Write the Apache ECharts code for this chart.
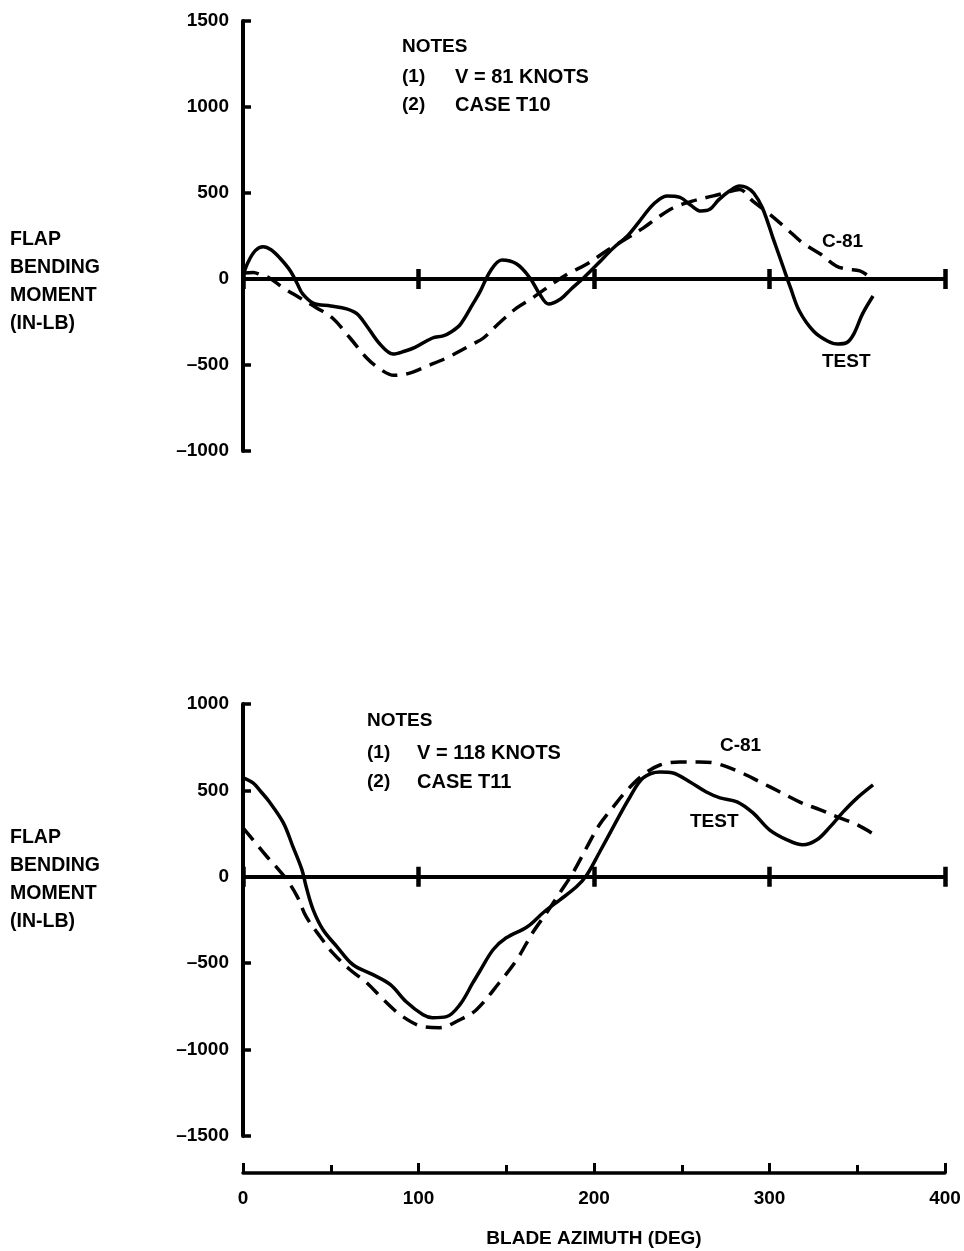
<!DOCTYPE html>
<html><head><meta charset="utf-8">
<script src="https://cdn.jsdelivr.net/npm/echarts@6/dist/echarts.min.js"></script>
<style>html,body{margin:0;padding:0;background:#fff}#c{width:964px;height:1251px}</style>
</head><body><div id="c"></div>
<script>
// ---- data ----
const azimuthRange = [0, 400];
const topMomentRange = [-1000, 1500];
const bottomMomentRange = [-1500, 1000];

const topTestAzimuth = [0,3,7,11.5,16,21,27,31,34,40,50,59,65,70.5,78,85.5,92,98,108,114,119,124,131,135,141,147.5,156,163.5,169,174,181,187,194,202,211,219,226,234,241.5,249,255,261,266,271,277,283,287,291,296,302,308,312,317,325,333,339,344,348,353,359];
const topTestMoment = [20,100,165,188,170,122,47,-29,-87,-140,-157,-174,-203,-273,-378,-436,-420,-398,-343,-331,-305,-262,-145,-75,47,110,87,6,-87,-145,-116,-58,6,87,180,250,337,436,483,475,430,395,405,460,510,541,532,500,413,238,64,-52,-186,-302,-360,-378,-370,-320,-203,-99];

const topC81Azimuth = [0,6,10,15,23,32.5,42,51,61,70.5,78,86,95,105,116,131,137,146,156,165,177,186,196,207,219,228,236,245,256,268,276,283,290.5,300,310,319,329,338,344,351.5,356];
const topC81Moment = [35,38,25,6,-52,-110,-168,-227,-343,-459,-523,-560,-547,-506,-459,-378,-343,-256,-168,-110,-23,35,87,163,238,296,355,413,453,483,505,520,453,378,290,209,145,76,58,47,20];

const bottomTestAzimuth = [0,5.7,10,15,23,28.5,33.6,36,40,45.6,53.6,62.7,74,84,93,102.6,108,116,123.6,131,135,142.5,150,162,171,180.6,190,196,203,211,220.5,228,237.6,245,254.7,264,271.8,281.5,290.6,300,310,319,327,334.5,342,350,359];
const bottomTestMoment = [572,543,495,434,312,173,40,-58,-191,-306,-405,-509,-566,-624,-723,-798,-815,-809,-740,-613,-545,-422,-353,-289,-208,-133,-58,12,139,289,462,572,607,601,549,491,457,434,370,272,214,185,214,289,376,457,532];

const bottomC81Azimuth = [0,5.7,13.7,19.4,25,31,36,44,51,61,70.5,80,91,102.6,112,123.6,133,146,156,165,173,180.6,188,196,203,211,219,228,237.6,249,260,270,283,294.6,306,317,329,340,350,360];
const bottomC81Moment = [283,214,116,52,-17,-116,-231,-347,-439,-538,-613,-711,-809,-867,-873,-827,-769,-613,-480,-324,-208,-92,23,173,300,405,503,590,647,665,665,655,607,549,491,434,387,341,301,243];

const azimuthInterval = 100;
const momentInterval = 500;

// ---- chart ----
const FONT = '"Liberation Sans", Arial, Helvetica, sans-serif';
const zip = (a, b) => a.map((x, i) => [x, b[i]]);
const fmtY = v => v < 0 ? '\u2013' + Math.abs(v) : String(v);
const TXT = {color: '#000', fontFamily: FONT, fontWeight: 'bold', fontSize: 19};

function yAxisOf(range, gridIndex) {
  return {
    type: 'value', gridIndex, min: range[0], max: range[1], interval: momentInterval,
    axisLine: {show: true, onZero: false, lineStyle: {color: '#000', width: 4}},
    axisTick: {show: true, inside: true, length: 8, lineStyle: {color: '#000', width: 3.5}},
    axisLabel: Object.assign({show: true, margin: 14, formatter: fmtY}, TXT),
    splitLine: {show: false}
  };
}
function zeroAxisOf(gridIndex, yIndex, position) {
  return {
    type: 'value', gridIndex, position, min: azimuthRange[0], max: azimuthRange[1], interval: azimuthInterval,
    axisLine: {show: true, onZero: true, onZeroAxisIndex: yIndex, lineStyle: {color: '#000', width: 4}},
    axisTick: {show: true, inside: false, length: 10, lineStyle: {color: '#000', width: 4.5}},
    axisLabel: {show: false},
    splitLine: {show: false}
  };
}
function lineSeries(xi, yi, ax, mo, dashed) {
  return {
    type: 'line', xAxisIndex: xi, yAxisIndex: yi, data: zip(ax, mo),
    smooth: 0.35, symbol: 'none', silent: true, z: 3,
    lineStyle: {color: '#000', width: 3.5, type: dashed ? [16, 9] : 'solid', cap: 'butt'}
  };
}
function txt(x, y, text, extra) {
  return {type: 'text', x, y, silent: true,
    style: Object.assign({text, fill: '#000', fontFamily: FONT, fontWeight: 'bold', fontSize: 19,
      textAlign: 'left', textVerticalAlign: 'middle'}, extra || {})};
}
const yName = 'FLAP\nBENDING\nMOMENT\n(IN-LB)';

const chart = echarts.init(document.getElementById('c'), null, {renderer: 'canvas'});
chart.setOption({
  animation: false,
  backgroundColor: '#fff',
  grid: [
    {left: 243, top: 21, width: 702, height: 430, containLabel: false, outerBoundsMode: 'none'},
    {left: 243, top: 704, width: 702, height: 432, containLabel: false, outerBoundsMode: 'none'}
  ],
  xAxis: [
    zeroAxisOf(0, 0, 'bottom'),
    zeroAxisOf(0, 0, 'top'),
    zeroAxisOf(1, 1, 'bottom'),
    zeroAxisOf(1, 1, 'top'),
    {
      type: 'value', gridIndex: 1, position: 'bottom', offset: 37,
      min: azimuthRange[0], max: azimuthRange[1], interval: azimuthInterval,
      axisLine: {show: true, onZero: false, lineStyle: {color: '#000', width: 3.5}},
      axisTick: {show: true, inside: true, length: 10, lineStyle: {color: '#000', width: 3}},
      minorTick: {show: true, splitNumber: 2, length: 8, lineStyle: {color: '#000', width: 3}},
      axisLabel: Object.assign({show: true, margin: 16}, TXT),
      splitLine: {show: false}, minorSplitLine: {show: false},
      name: 'BLADE AZIMUTH (DEG)', nameLocation: 'middle', nameGap: 56,
      nameTextStyle: {color: '#000', fontFamily: FONT, fontWeight: 'bold', fontSize: 19}
    }
  ],
  yAxis: [yAxisOf(topMomentRange, 0), yAxisOf(bottomMomentRange, 1)],
  series: [
    lineSeries(0, 0, topTestAzimuth, topTestMoment, false),
    lineSeries(0, 0, topC81Azimuth, topC81Moment, true),
    lineSeries(2, 1, bottomTestAzimuth, bottomTestMoment, false),
    lineSeries(2, 1, bottomC81Azimuth, bottomC81Moment, true)
  ],
  graphic: [
    txt(10, 226, yName, {textVerticalAlign: 'top', lineHeight: 28, fontSize: 19.5}),
    txt(402, 47, 'NOTES'),
    txt(402, 77, '(1)'), txt(455, 77, 'V = 81 KNOTS', {fontSize: 20}),
    txt(402, 105, '(2)'), txt(455, 105, 'CASE T10', {fontSize: 20}),
    txt(822, 242, 'C-81'),
    txt(822, 362, 'TEST'),
    txt(10, 824, yName, {textVerticalAlign: 'top', lineHeight: 28, fontSize: 19.5}),
    txt(367, 721, 'NOTES'),
    txt(367, 753, '(1)'), txt(417, 753, 'V = 118 KNOTS', {fontSize: 20}),
    txt(367, 782, '(2)'), txt(417, 782, 'CASE T11', {fontSize: 20}),
    txt(720, 746, 'C-81'),
    txt(690, 822, 'TEST')
  ]
});
</script></body></html>
